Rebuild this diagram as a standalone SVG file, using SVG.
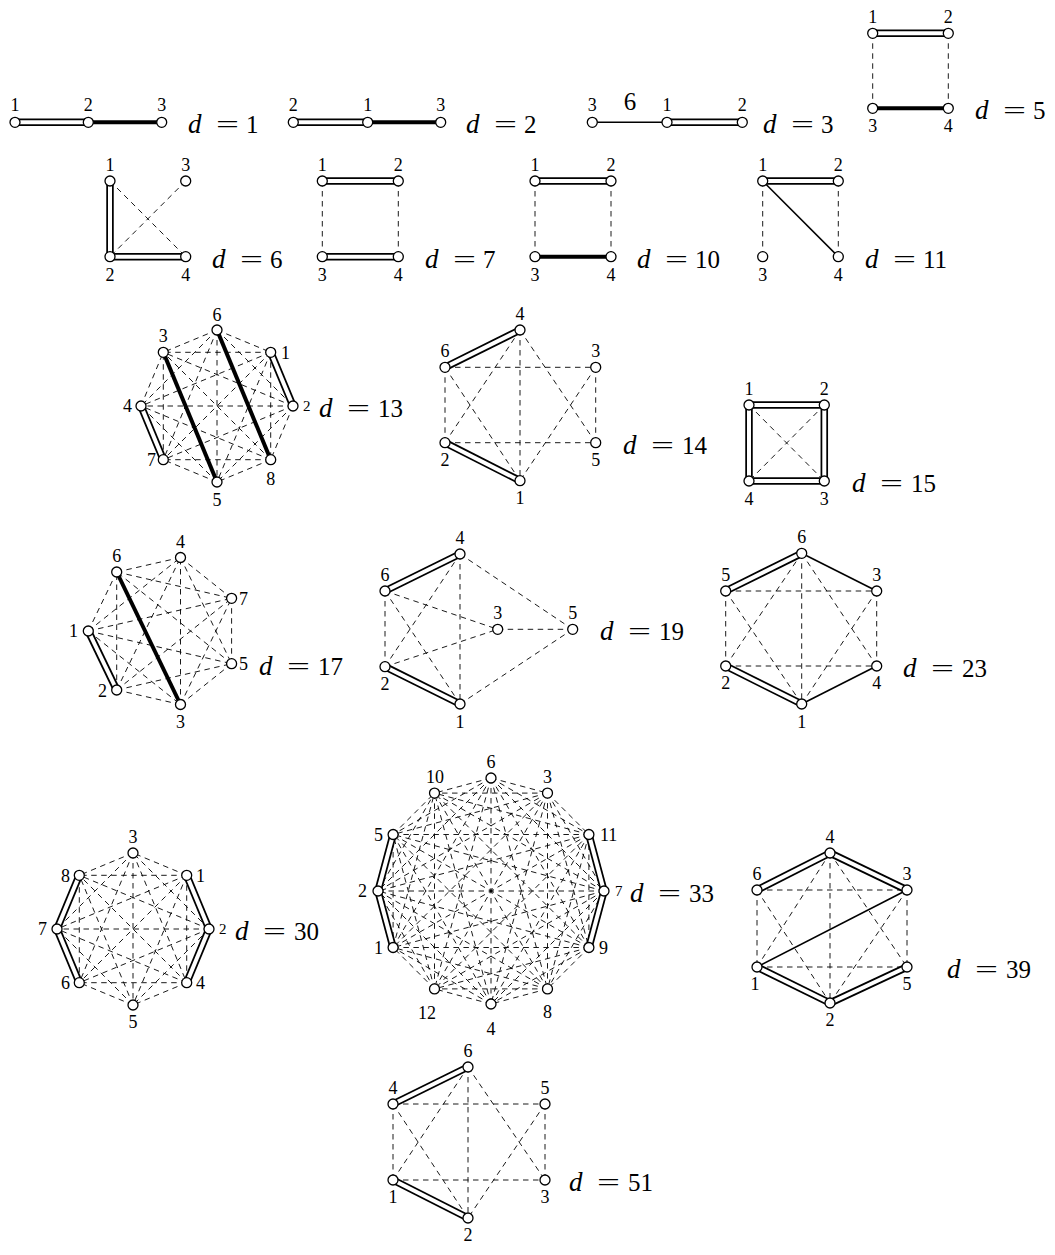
<svg xmlns="http://www.w3.org/2000/svg" width="1055" height="1255" viewBox="0 0 1055 1255">
<style>
.bg{fill:#fff}
.n circle{fill:#fff;stroke:#000;stroke-width:1.3}
text{font-family:"Liberation Serif","DejaVu Serif",serif;fill:#000}
.lb{font-size:18px;text-anchor:middle}
.ls{font-size:18px;text-anchor:start}
.le{font-size:18px;text-anchor:end}
.sm{font-size:15px}
.dl{font-size:25px}
.dv{font-size:27px}
.dash line{stroke:#000;stroke-width:0.9;stroke-dasharray:5.5 4.5;fill:none}
.sol line{stroke:#000;stroke-width:1.6}
.bold line{stroke:#000;stroke-width:4}
.dbo line{stroke:#000;stroke-width:7.5}
.dbi line{stroke:#fff;stroke-width:4}
</style>
<rect class="bg" x="0" y="0" width="1055" height="1255"/>
<g id="connectors">
<g class="dash">
<line x1="872.7" y1="33.3" x2="872.7" y2="108.3"/><line x1="948.3" y1="33.3" x2="948.3" y2="108.3"/>
<line x1="110" y1="181" x2="185.7" y2="256.7"/><line x1="185.7" y1="181" x2="110" y2="256.7"/>
<line x1="322.3" y1="181" x2="322.3" y2="256.7"/><line x1="398.3" y1="181" x2="398.3" y2="256.7"/>
<line x1="535" y1="181" x2="535" y2="256.7"/><line x1="611" y1="181" x2="611" y2="256.7"/>
<line x1="762.7" y1="181" x2="762.7" y2="256.7"/><line x1="838.3" y1="181" x2="838.3" y2="256.7"/>
<line x1="217" y1="330" x2="270.7" y2="352.3"/><line x1="217" y1="330" x2="293" y2="406"/><line x1="217" y1="330" x2="217" y2="482"/><line x1="217" y1="330" x2="163.3" y2="459.7"/><line x1="217" y1="330" x2="141" y2="406"/><line x1="217" y1="330" x2="163.3" y2="352.3"/>
<line x1="270.7" y1="352.3" x2="270.7" y2="459.7"/><line x1="270.7" y1="352.3" x2="217" y2="482"/><line x1="270.7" y1="352.3" x2="163.3" y2="459.7"/><line x1="270.7" y1="352.3" x2="141" y2="406"/><line x1="270.7" y1="352.3" x2="163.3" y2="352.3"/>
<line x1="293" y1="406" x2="270.7" y2="459.7"/><line x1="293" y1="406" x2="217" y2="482"/><line x1="293" y1="406" x2="163.3" y2="459.7"/><line x1="293" y1="406" x2="141" y2="406"/><line x1="293" y1="406" x2="163.3" y2="352.3"/>
<line x1="270.7" y1="459.7" x2="217" y2="482"/><line x1="270.7" y1="459.7" x2="163.3" y2="459.7"/><line x1="270.7" y1="459.7" x2="141" y2="406"/><line x1="270.7" y1="459.7" x2="163.3" y2="352.3"/>
<line x1="217" y1="482" x2="163.3" y2="459.7"/><line x1="217" y1="482" x2="141" y2="406"/>
<line x1="163.3" y1="459.7" x2="163.3" y2="352.3"/><line x1="141" y1="406" x2="163.3" y2="352.3"/>
<line x1="445" y1="367.3" x2="595.7" y2="367.3"/><line x1="445" y1="367.3" x2="445" y2="442.7"/><line x1="445" y1="367.3" x2="520" y2="480.7"/><line x1="520" y1="330" x2="445" y2="442.7"/><line x1="520" y1="330" x2="520" y2="480.7"/><line x1="520" y1="330" x2="595.7" y2="442.7"/><line x1="595.7" y1="367.3" x2="520" y2="480.7"/><line x1="595.7" y1="367.3" x2="595.7" y2="442.7"/><line x1="445" y1="442.7" x2="595.7" y2="442.7"/>
<line x1="749" y1="405" x2="824.3" y2="481"/><line x1="824.3" y1="405" x2="749" y2="481"/>
<line x1="88.3" y1="631" x2="180.5" y2="704.5"/><line x1="88.3" y1="631" x2="180.5" y2="557.5"/><line x1="88.3" y1="631" x2="231.6" y2="663.7"/><line x1="88.3" y1="631" x2="116.7" y2="572"/><line x1="88.3" y1="631" x2="231.6" y2="598.3"/>
<line x1="116.7" y1="690" x2="180.5" y2="704.5"/><line x1="116.7" y1="690" x2="180.5" y2="557.5"/><line x1="116.7" y1="690" x2="231.6" y2="663.7"/><line x1="116.7" y1="690" x2="116.7" y2="572"/><line x1="116.7" y1="690" x2="231.6" y2="598.3"/>
<line x1="180.5" y1="704.5" x2="180.5" y2="557.5"/><line x1="180.5" y1="704.5" x2="231.6" y2="663.7"/><line x1="180.5" y1="704.5" x2="231.6" y2="598.3"/>
<line x1="180.5" y1="557.5" x2="231.6" y2="663.7"/><line x1="180.5" y1="557.5" x2="116.7" y2="572"/><line x1="180.5" y1="557.5" x2="231.6" y2="598.3"/>
<line x1="231.6" y1="663.7" x2="116.7" y2="572"/><line x1="231.6" y1="663.7" x2="231.6" y2="598.3"/><line x1="116.7" y1="572" x2="231.6" y2="598.3"/>
<line x1="460" y1="554" x2="572.7" y2="629.3"/><line x1="460" y1="554" x2="460" y2="704"/><line x1="460" y1="554" x2="385" y2="666.7"/><line x1="385" y1="591" x2="385" y2="666.7"/><line x1="385" y1="591" x2="497.7" y2="629.3"/><line x1="385" y1="591" x2="460" y2="704"/><line x1="385" y1="666.7" x2="497.7" y2="629.3"/><line x1="497.7" y1="629.3" x2="572.7" y2="629.3"/><line x1="460" y1="704" x2="572.7" y2="629.3"/>
<line x1="725.7" y1="591" x2="876.7" y2="591"/><line x1="725.7" y1="591" x2="725.7" y2="666"/><line x1="725.7" y1="591" x2="801.7" y2="704"/><line x1="801.7" y1="553.3" x2="725.7" y2="666"/><line x1="801.7" y1="553.3" x2="801.7" y2="704"/><line x1="801.7" y1="553.3" x2="876.7" y2="666"/><line x1="876.7" y1="591" x2="801.7" y2="704"/><line x1="876.7" y1="591" x2="876.7" y2="666"/><line x1="725.7" y1="666" x2="876.7" y2="666"/>
<line x1="186.7" y1="875.3" x2="133" y2="853"/><line x1="186.7" y1="875.3" x2="186.7" y2="982.7"/><line x1="186.7" y1="875.3" x2="133" y2="1005"/><line x1="186.7" y1="875.3" x2="79.3" y2="982.7"/><line x1="186.7" y1="875.3" x2="57" y2="929"/><line x1="186.7" y1="875.3" x2="79.3" y2="875.3"/>
<line x1="209" y1="929" x2="133" y2="853"/><line x1="209" y1="929" x2="133" y2="1005"/><line x1="209" y1="929" x2="79.3" y2="982.7"/><line x1="209" y1="929" x2="57" y2="929"/><line x1="209" y1="929" x2="79.3" y2="875.3"/>
<line x1="133" y1="853" x2="186.7" y2="982.7"/><line x1="133" y1="853" x2="133" y2="1005"/><line x1="133" y1="853" x2="79.3" y2="982.7"/><line x1="133" y1="853" x2="57" y2="929"/><line x1="133" y1="853" x2="79.3" y2="875.3"/>
<line x1="186.7" y1="982.7" x2="133" y2="1005"/><line x1="186.7" y1="982.7" x2="79.3" y2="982.7"/><line x1="186.7" y1="982.7" x2="57" y2="929"/><line x1="186.7" y1="982.7" x2="79.3" y2="875.3"/>
<line x1="133" y1="1005" x2="79.3" y2="982.7"/><line x1="133" y1="1005" x2="57" y2="929"/><line x1="133" y1="1005" x2="79.3" y2="875.3"/><line x1="79.3" y1="982.7" x2="79.3" y2="875.3"/>
<line x1="491" y1="778" x2="547.5" y2="793.1"/><line x1="491" y1="778" x2="588.9" y2="834.5"/><line x1="491" y1="778" x2="604" y2="891"/><line x1="491" y1="778" x2="588.9" y2="947.5"/><line x1="491" y1="778" x2="547.5" y2="988.9"/><line x1="491" y1="778" x2="491" y2="1004"/><line x1="491" y1="778" x2="434.5" y2="988.9"/><line x1="491" y1="778" x2="393.1" y2="947.5"/><line x1="491" y1="778" x2="378" y2="891"/><line x1="491" y1="778" x2="393.1" y2="834.5"/><line x1="491" y1="778" x2="434.5" y2="793.1"/>
<line x1="547.5" y1="793.1" x2="588.9" y2="834.5"/><line x1="547.5" y1="793.1" x2="604" y2="891"/><line x1="547.5" y1="793.1" x2="588.9" y2="947.5"/><line x1="547.5" y1="793.1" x2="547.5" y2="988.9"/><line x1="547.5" y1="793.1" x2="491" y2="1004"/><line x1="547.5" y1="793.1" x2="434.5" y2="988.9"/><line x1="547.5" y1="793.1" x2="393.1" y2="947.5"/><line x1="547.5" y1="793.1" x2="378" y2="891"/><line x1="547.5" y1="793.1" x2="393.1" y2="834.5"/><line x1="547.5" y1="793.1" x2="434.5" y2="793.1"/>
<line x1="588.9" y1="834.5" x2="588.9" y2="947.5"/><line x1="588.9" y1="834.5" x2="547.5" y2="988.9"/><line x1="588.9" y1="834.5" x2="491" y2="1004"/><line x1="588.9" y1="834.5" x2="434.5" y2="988.9"/><line x1="588.9" y1="834.5" x2="393.1" y2="947.5"/><line x1="588.9" y1="834.5" x2="378" y2="891"/><line x1="588.9" y1="834.5" x2="393.1" y2="834.5"/><line x1="588.9" y1="834.5" x2="434.5" y2="793.1"/>
<line x1="604" y1="891" x2="547.5" y2="988.9"/><line x1="604" y1="891" x2="491" y2="1004"/><line x1="604" y1="891" x2="434.5" y2="988.9"/><line x1="604" y1="891" x2="393.1" y2="947.5"/><line x1="604" y1="891" x2="378" y2="891"/><line x1="604" y1="891" x2="393.1" y2="834.5"/><line x1="604" y1="891" x2="434.5" y2="793.1"/>
<line x1="588.9" y1="947.5" x2="547.5" y2="988.9"/><line x1="588.9" y1="947.5" x2="491" y2="1004"/><line x1="588.9" y1="947.5" x2="434.5" y2="988.9"/><line x1="588.9" y1="947.5" x2="393.1" y2="947.5"/><line x1="588.9" y1="947.5" x2="378" y2="891"/><line x1="588.9" y1="947.5" x2="393.1" y2="834.5"/><line x1="588.9" y1="947.5" x2="434.5" y2="793.1"/>
<line x1="547.5" y1="988.9" x2="491" y2="1004"/><line x1="547.5" y1="988.9" x2="434.5" y2="988.9"/><line x1="547.5" y1="988.9" x2="393.1" y2="947.5"/><line x1="547.5" y1="988.9" x2="378" y2="891"/><line x1="547.5" y1="988.9" x2="393.1" y2="834.5"/><line x1="547.5" y1="988.9" x2="434.5" y2="793.1"/>
<line x1="491" y1="1004" x2="434.5" y2="988.9"/><line x1="491" y1="1004" x2="393.1" y2="947.5"/><line x1="491" y1="1004" x2="378" y2="891"/><line x1="491" y1="1004" x2="393.1" y2="834.5"/><line x1="491" y1="1004" x2="434.5" y2="793.1"/>
<line x1="434.5" y1="988.9" x2="393.1" y2="947.5"/><line x1="434.5" y1="988.9" x2="378" y2="891"/><line x1="434.5" y1="988.9" x2="393.1" y2="834.5"/><line x1="434.5" y1="988.9" x2="434.5" y2="793.1"/>
<line x1="393.1" y1="947.5" x2="393.1" y2="834.5"/><line x1="393.1" y1="947.5" x2="434.5" y2="793.1"/><line x1="378" y1="891" x2="434.5" y2="793.1"/><line x1="393.1" y1="834.5" x2="434.5" y2="793.1"/>
<line x1="757" y1="890" x2="907" y2="890"/><line x1="757" y1="890" x2="757" y2="967"/><line x1="757" y1="890" x2="830" y2="1003"/><line x1="830" y1="853" x2="757" y2="967"/><line x1="830" y1="853" x2="830" y2="1003"/><line x1="830" y1="853" x2="907" y2="967"/><line x1="907" y1="890" x2="830" y2="1003"/><line x1="907" y1="890" x2="907" y2="967"/><line x1="757" y1="967" x2="907" y2="967"/>
<line x1="393" y1="1104" x2="545" y2="1104"/><line x1="393" y1="1180" x2="545" y2="1180"/><line x1="393" y1="1104" x2="393" y2="1180"/><line x1="545" y1="1104" x2="545" y2="1180"/><line x1="468" y1="1067" x2="468" y2="1218"/><line x1="468" y1="1067" x2="393" y2="1180"/><line x1="393" y1="1104" x2="468" y2="1218"/><line x1="468" y1="1067" x2="545" y2="1180"/><line x1="545" y1="1104" x2="468" y2="1218"/>
</g>
<g class="sol">
<line x1="592.3" y1="122.3" x2="667" y2="122.3"/>
<line x1="762.7" y1="181" x2="838.3" y2="256.7"/>
<line x1="801.7" y1="553.3" x2="876.7" y2="591"/><line x1="801.7" y1="704" x2="876.7" y2="666"/>
<line x1="757" y1="967" x2="907" y2="890"/>
</g>
<g class="bold">
<line x1="88.3" y1="122.3" x2="161.7" y2="122.3"/>
<line x1="367.7" y1="122.3" x2="440.7" y2="122.3"/>
<line x1="872.7" y1="108.3" x2="948.3" y2="108.3"/>
<line x1="535" y1="256.7" x2="611" y2="256.7"/>
<line x1="163.3" y1="352.3" x2="217" y2="482"/><line x1="217" y1="330" x2="270.7" y2="459.7"/>
<line x1="116.7" y1="572" x2="180.5" y2="704.5"/>
</g>
<g class="dbo">
<line x1="15" y1="122.3" x2="88.3" y2="122.3"/>
<line x1="293.3" y1="122.3" x2="367.7" y2="122.3"/>
<line x1="667" y1="122.3" x2="742.3" y2="122.3"/>
<line x1="872.7" y1="33.3" x2="948.3" y2="33.3"/>
<line x1="110" y1="181" x2="110" y2="256.7"/><line x1="110" y1="256.7" x2="185.7" y2="256.7"/>
<line x1="322.3" y1="181" x2="398.3" y2="181"/><line x1="322.3" y1="256.7" x2="398.3" y2="256.7"/>
<line x1="535" y1="181" x2="611" y2="181"/>
<line x1="762.7" y1="181" x2="838.3" y2="181"/>
<line x1="270.7" y1="352.3" x2="293" y2="406"/><line x1="141" y1="406" x2="163.3" y2="459.7"/>
<line x1="445" y1="367.3" x2="520" y2="330"/><line x1="445" y1="442.7" x2="520" y2="480.7"/>
<line x1="749" y1="405" x2="824.3" y2="405"/><line x1="824.3" y1="405" x2="824.3" y2="481"/><line x1="824.3" y1="481" x2="749" y2="481"/><line x1="749" y1="481" x2="749" y2="405"/>
<line x1="88.3" y1="631" x2="116.7" y2="690"/>
<line x1="385" y1="591" x2="460" y2="554"/><line x1="385" y1="666.7" x2="460" y2="704"/>
<line x1="725.7" y1="591" x2="801.7" y2="553.3"/><line x1="725.7" y1="666" x2="801.7" y2="704"/>
<line x1="79.3" y1="875.3" x2="57" y2="929"/><line x1="57" y1="929" x2="79.3" y2="982.7"/><line x1="186.7" y1="875.3" x2="209" y2="929"/><line x1="209" y1="929" x2="186.7" y2="982.7"/>
<line x1="393.1" y1="834.5" x2="378" y2="891"/><line x1="378" y1="891" x2="393.1" y2="947.5"/><line x1="588.9" y1="834.5" x2="604" y2="891"/><line x1="604" y1="891" x2="588.9" y2="947.5"/>
<line x1="757" y1="890" x2="830" y2="853"/><line x1="830" y1="853" x2="907" y2="890"/><line x1="757" y1="967" x2="830" y2="1003"/><line x1="830" y1="1003" x2="907" y2="967"/>
<line x1="393" y1="1104" x2="468" y2="1067"/><line x1="393" y1="1180" x2="468" y2="1218"/>
</g>
<g class="dbi">
<line x1="15" y1="122.3" x2="88.3" y2="122.3"/>
<line x1="293.3" y1="122.3" x2="367.7" y2="122.3"/>
<line x1="667" y1="122.3" x2="742.3" y2="122.3"/>
<line x1="872.7" y1="33.3" x2="948.3" y2="33.3"/>
<line x1="110" y1="181" x2="110" y2="256.7"/><line x1="110" y1="256.7" x2="185.7" y2="256.7"/>
<line x1="322.3" y1="181" x2="398.3" y2="181"/><line x1="322.3" y1="256.7" x2="398.3" y2="256.7"/>
<line x1="535" y1="181" x2="611" y2="181"/>
<line x1="762.7" y1="181" x2="838.3" y2="181"/>
<line x1="270.7" y1="352.3" x2="293" y2="406"/><line x1="141" y1="406" x2="163.3" y2="459.7"/>
<line x1="445" y1="367.3" x2="520" y2="330"/><line x1="445" y1="442.7" x2="520" y2="480.7"/>
<line x1="749" y1="405" x2="824.3" y2="405"/><line x1="824.3" y1="405" x2="824.3" y2="481"/><line x1="824.3" y1="481" x2="749" y2="481"/><line x1="749" y1="481" x2="749" y2="405"/>
<line x1="88.3" y1="631" x2="116.7" y2="690"/>
<line x1="385" y1="591" x2="460" y2="554"/><line x1="385" y1="666.7" x2="460" y2="704"/>
<line x1="725.7" y1="591" x2="801.7" y2="553.3"/><line x1="725.7" y1="666" x2="801.7" y2="704"/>
<line x1="79.3" y1="875.3" x2="57" y2="929"/><line x1="57" y1="929" x2="79.3" y2="982.7"/><line x1="186.7" y1="875.3" x2="209" y2="929"/><line x1="209" y1="929" x2="186.7" y2="982.7"/>
<line x1="393.1" y1="834.5" x2="378" y2="891"/><line x1="378" y1="891" x2="393.1" y2="947.5"/><line x1="588.9" y1="834.5" x2="604" y2="891"/><line x1="604" y1="891" x2="588.9" y2="947.5"/>
<line x1="757" y1="890" x2="830" y2="853"/><line x1="830" y1="853" x2="907" y2="890"/><line x1="757" y1="967" x2="830" y2="1003"/><line x1="830" y1="1003" x2="907" y2="967"/>
<line x1="393" y1="1104" x2="468" y2="1067"/><line x1="393" y1="1180" x2="468" y2="1218"/>
</g>
</g>
<g id="nodes">
<g id="d1-n1" class="n"><circle cx="15" cy="122.3" r="5"/><text class="lb" x="15" y="111">1</text></g>
<g id="d1-n2" class="n"><circle cx="88.3" cy="122.3" r="5"/><text class="lb" x="88.3" y="111">2</text></g>
<g id="d1-n3" class="n"><circle cx="161.7" cy="122.3" r="5"/><text class="lb" x="161.7" y="111">3</text></g>
<g id="d2-n2" class="n"><circle cx="293.3" cy="122.3" r="5"/><text class="lb" x="293.3" y="111">2</text></g>
<g id="d2-n1" class="n"><circle cx="367.7" cy="122.3" r="5"/><text class="lb" x="367.7" y="111">1</text></g>
<g id="d2-n3" class="n"><circle cx="440.7" cy="122.3" r="5"/><text class="lb" x="440.7" y="111">3</text></g>
<g id="d3-n3" class="n"><circle cx="592.3" cy="122.3" r="5"/><text class="lb" x="592.3" y="111">3</text></g>
<g id="d3-n1" class="n"><circle cx="667" cy="122.3" r="5"/><text class="lb" x="667" y="111">1</text></g>
<g id="d3-n2" class="n"><circle cx="742.3" cy="122.3" r="5"/><text class="lb" x="742.3" y="111">2</text></g>
<g id="d5-n1" class="n"><circle cx="872.7" cy="33.3" r="5"/><text class="lb" x="872.7" y="23">1</text></g>
<g id="d5-n2" class="n"><circle cx="948.3" cy="33.3" r="5"/><text class="lb" x="948.3" y="23">2</text></g>
<g id="d5-n3" class="n"><circle cx="872.7" cy="108.3" r="5"/><text class="lb" x="872.7" y="132">3</text></g>
<g id="d5-n4" class="n"><circle cx="948.3" cy="108.3" r="5"/><text class="lb" x="948.3" y="132">4</text></g>
<g id="d6-n1" class="n"><circle cx="110" cy="181" r="5"/><text class="lb" x="110" y="171">1</text></g>
<g id="d6-n3" class="n"><circle cx="185.7" cy="181" r="5"/><text class="lb" x="185.7" y="171">3</text></g>
<g id="d6-n2" class="n"><circle cx="110" cy="256.7" r="5"/><text class="lb" x="110" y="281">2</text></g>
<g id="d6-n4" class="n"><circle cx="185.7" cy="256.7" r="5"/><text class="lb" x="185.7" y="281">4</text></g>
<g id="d7-n1" class="n"><circle cx="322.3" cy="181" r="5"/><text class="lb" x="322.3" y="171">1</text></g>
<g id="d7-n2" class="n"><circle cx="398.3" cy="181" r="5"/><text class="lb" x="398.3" y="171">2</text></g>
<g id="d7-n3" class="n"><circle cx="322.3" cy="256.7" r="5"/><text class="lb" x="322.3" y="281">3</text></g>
<g id="d7-n4" class="n"><circle cx="398.3" cy="256.7" r="5"/><text class="lb" x="398.3" y="281">4</text></g>
<g id="d10-n1" class="n"><circle cx="535" cy="181" r="5"/><text class="lb" x="535" y="171">1</text></g>
<g id="d10-n2" class="n"><circle cx="611" cy="181" r="5"/><text class="lb" x="611" y="171">2</text></g>
<g id="d10-n3" class="n"><circle cx="535" cy="256.7" r="5"/><text class="lb" x="535" y="281">3</text></g>
<g id="d10-n4" class="n"><circle cx="611" cy="256.7" r="5"/><text class="lb" x="611" y="281">4</text></g>
<g id="d11-n1" class="n"><circle cx="762.7" cy="181" r="5"/><text class="lb" x="762.7" y="171">1</text></g>
<g id="d11-n2" class="n"><circle cx="838.3" cy="181" r="5"/><text class="lb" x="838.3" y="171">2</text></g>
<g id="d11-n3" class="n"><circle cx="762.7" cy="256.7" r="5"/><text class="lb" x="762.7" y="281">3</text></g>
<g id="d11-n4" class="n"><circle cx="838.3" cy="256.7" r="5"/><text class="lb" x="838.3" y="281">4</text></g>
<g id="d13-n6" class="n"><circle cx="217" cy="330" r="5"/><text class="lb" x="217" y="321">6</text></g>
<g id="d13-n1" class="n"><circle cx="270.7" cy="352.3" r="5"/><text class="ls" x="281" y="359">1</text></g>
<g id="d13-n2" class="n"><circle cx="293" cy="406" r="5"/><text class="ls sm" x="303" y="411">2</text></g>
<g id="d13-n8" class="n"><circle cx="270.7" cy="459.7" r="5"/><text class="lb" x="270.7" y="485">8</text></g>
<g id="d13-n5" class="n"><circle cx="217" cy="482" r="5"/><text class="lb" x="217" y="506">5</text></g>
<g id="d13-n7" class="n"><circle cx="163.3" cy="459.7" r="5"/><text class="le" x="156" y="466">7</text></g>
<g id="d13-n4" class="n"><circle cx="141" cy="406" r="5"/><text class="le" x="132" y="412">4</text></g>
<g id="d13-n3" class="n"><circle cx="163.3" cy="352.3" r="5"/><text class="lb" x="163.3" y="342">3</text></g>
<g id="d14-n4" class="n"><circle cx="520" cy="330" r="5"/><text class="lb" x="520" y="320">4</text></g>
<g id="d14-n6" class="n"><circle cx="445" cy="367.3" r="5"/><text class="lb" x="445" y="357">6</text></g>
<g id="d14-n3" class="n"><circle cx="595.7" cy="367.3" r="5"/><text class="lb" x="595.7" y="357">3</text></g>
<g id="d14-n2" class="n"><circle cx="445" cy="442.7" r="5"/><text class="lb" x="445" y="466">2</text></g>
<g id="d14-n5" class="n"><circle cx="595.7" cy="442.7" r="5"/><text class="lb" x="595.7" y="466">5</text></g>
<g id="d14-n1" class="n"><circle cx="520" cy="480.7" r="5"/><text class="lb" x="520" y="504">1</text></g>
<g id="d15-n1" class="n"><circle cx="749" cy="405" r="5"/><text class="lb" x="749" y="395">1</text></g>
<g id="d15-n2" class="n"><circle cx="824.3" cy="405" r="5"/><text class="lb" x="824.3" y="395">2</text></g>
<g id="d15-n4" class="n"><circle cx="749" cy="481" r="5"/><text class="lb" x="749" y="505">4</text></g>
<g id="d15-n3" class="n"><circle cx="824.3" cy="481" r="5"/><text class="lb" x="824.3" y="505">3</text></g>
<g id="d17-n1" class="n"><circle cx="88.3" cy="631" r="5"/><text class="le" x="78" y="637">1</text></g>
<g id="d17-n6" class="n"><circle cx="116.7" cy="572" r="5"/><text class="lb" x="116.7" y="562">6</text></g>
<g id="d17-n4" class="n"><circle cx="180.5" cy="557.5" r="5"/><text class="lb" x="180.5" y="548">4</text></g>
<g id="d17-n7" class="n"><circle cx="231.6" cy="598.3" r="5"/><text class="ls" x="239" y="605">7</text></g>
<g id="d17-n5" class="n"><circle cx="231.6" cy="663.7" r="5"/><text class="ls" x="239" y="670">5</text></g>
<g id="d17-n3" class="n"><circle cx="180.5" cy="704.5" r="5"/><text class="lb" x="180.5" y="728">3</text></g>
<g id="d17-n2" class="n"><circle cx="116.7" cy="690" r="5"/><text class="le" x="107" y="697">2</text></g>
<g id="d19-n4" class="n"><circle cx="460" cy="554" r="5"/><text class="lb" x="460" y="544">4</text></g>
<g id="d19-n6" class="n"><circle cx="385" cy="591" r="5"/><text class="lb" x="385" y="581">6</text></g>
<g id="d19-n3" class="n"><circle cx="497.7" cy="629.3" r="5"/><text class="lb" x="497.7" y="619">3</text></g>
<g id="d19-n5" class="n"><circle cx="572.7" cy="629.3" r="5"/><text class="lb" x="572.7" y="619">5</text></g>
<g id="d19-n2" class="n"><circle cx="385" cy="666.7" r="5"/><text class="lb" x="385" y="690">2</text></g>
<g id="d19-n1" class="n"><circle cx="460" cy="704" r="5"/><text class="lb" x="460" y="728">1</text></g>
<g id="d23-n6" class="n"><circle cx="801.7" cy="553.3" r="5"/><text class="lb" x="801.7" y="543">6</text></g>
<g id="d23-n5" class="n"><circle cx="725.7" cy="591" r="5"/><text class="lb" x="725.7" y="581">5</text></g>
<g id="d23-n3" class="n"><circle cx="876.7" cy="591" r="5"/><text class="lb" x="876.7" y="581">3</text></g>
<g id="d23-n2" class="n"><circle cx="725.7" cy="666" r="5"/><text class="lb" x="725.7" y="689">2</text></g>
<g id="d23-n4" class="n"><circle cx="876.7" cy="666" r="5"/><text class="lb" x="876.7" y="689">4</text></g>
<g id="d23-n1" class="n"><circle cx="801.7" cy="704" r="5"/><text class="lb" x="801.7" y="728">1</text></g>
<g id="d30-n3" class="n"><circle cx="133" cy="853" r="5"/><text class="lb" x="133" y="843">3</text></g>
<g id="d30-n1" class="n"><circle cx="186.7" cy="875.3" r="5"/><text class="ls" x="196" y="882">1</text></g>
<g id="d30-n2" class="n"><circle cx="209" cy="929" r="5"/><text class="ls sm" x="219" y="934">2</text></g>
<g id="d30-n4" class="n"><circle cx="186.7" cy="982.7" r="5"/><text class="ls" x="196" y="989">4</text></g>
<g id="d30-n5" class="n"><circle cx="133" cy="1005" r="5"/><text class="lb" x="133" y="1028">5</text></g>
<g id="d30-n6" class="n"><circle cx="79.3" cy="982.7" r="5"/><text class="le" x="70" y="989">6</text></g>
<g id="d30-n7" class="n"><circle cx="57" cy="929" r="5"/><text class="le" x="47" y="935">7</text></g>
<g id="d30-n8" class="n"><circle cx="79.3" cy="875.3" r="5"/><text class="le" x="70" y="882">8</text></g>
<g id="d33-n6" class="n"><circle cx="491" cy="778" r="5"/><text class="lb" x="491" y="768">6</text></g>
<g id="d33-n3" class="n"><circle cx="547.5" cy="793.1" r="5"/><text class="lb" x="547.5" y="783">3</text></g>
<g id="d33-n11" class="n"><circle cx="588.9" cy="834.5" r="5"/><text class="ls" x="600" y="841">11</text></g>
<g id="d33-n7" class="n"><circle cx="604" cy="891" r="5"/><text class="ls sm" x="615" y="896">7</text></g>
<g id="d33-n9" class="n"><circle cx="588.9" cy="947.5" r="5"/><text class="ls" x="599" y="954">9</text></g>
<g id="d33-n8" class="n"><circle cx="547.5" cy="988.9" r="5"/><text class="lb" x="547.5" y="1018">8</text></g>
<g id="d33-n4" class="n"><circle cx="491" cy="1004" r="5"/><text class="lb" x="491" y="1035">4</text></g>
<g id="d33-n12" class="n"><circle cx="434.5" cy="988.9" r="5"/><text class="lb" x="427" y="1019">12</text></g>
<g id="d33-n1" class="n"><circle cx="393.1" cy="947.5" r="5"/><text class="le" x="383" y="954">1</text></g>
<g id="d33-n2" class="n"><circle cx="378" cy="891" r="5"/><text class="le" x="367" y="897">2</text></g>
<g id="d33-n5" class="n"><circle cx="393.1" cy="834.5" r="5"/><text class="le" x="383" y="841">5</text></g>
<g id="d33-n10" class="n"><circle cx="434.5" cy="793.1" r="5"/><text class="lb" x="435" y="783">10</text></g>
<g id="d39-n4" class="n"><circle cx="830" cy="853" r="5"/><text class="lb" x="830" y="843">4</text></g>
<g id="d39-n6" class="n"><circle cx="757" cy="890" r="5"/><text class="lb" x="757" y="880">6</text></g>
<g id="d39-n3" class="n"><circle cx="907" cy="890" r="5"/><text class="lb" x="907" y="880">3</text></g>
<g id="d39-n1" class="n"><circle cx="757" cy="967" r="5"/><text class="lb" x="755" y="990">1</text></g>
<g id="d39-n5" class="n"><circle cx="907" cy="967" r="5"/><text class="lb" x="907" y="990">5</text></g>
<g id="d39-n2" class="n"><circle cx="830" cy="1003" r="5"/><text class="lb" x="830" y="1026">2</text></g>
<g id="d51-n6" class="n"><circle cx="468" cy="1067" r="5"/><text class="lb" x="468" y="1057">6</text></g>
<g id="d51-n4" class="n"><circle cx="393" cy="1104" r="5"/><text class="lb" x="393" y="1094">4</text></g>
<g id="d51-n5" class="n"><circle cx="545" cy="1104" r="5"/><text class="lb" x="545" y="1094">5</text></g>
<g id="d51-n1" class="n"><circle cx="393" cy="1180" r="5"/><text class="lb" x="393" y="1203">1</text></g>
<g id="d51-n3" class="n"><circle cx="545" cy="1180" r="5"/><text class="lb" x="545" y="1203">3</text></g>
<g id="d51-n2" class="n"><circle cx="468" cy="1218" r="5"/><text class="lb" x="468" y="1241">2</text></g>
</g>
<g id="labels">
<text class="dl" x="630" y="110" text-anchor="middle">6</text>
<text class="dl" x="188" y="133"><tspan class="dv" font-style="italic">d</tspan><tspan x="216" textLength="23" lengthAdjust="spacingAndGlyphs">=</tspan><tspan x="246">1</tspan></text>
<text class="dl" x="466" y="133"><tspan class="dv" font-style="italic">d</tspan><tspan x="494" textLength="23" lengthAdjust="spacingAndGlyphs">=</tspan><tspan x="524">2</tspan></text>
<text class="dl" x="763" y="133"><tspan class="dv" font-style="italic">d</tspan><tspan x="791" textLength="23" lengthAdjust="spacingAndGlyphs">=</tspan><tspan x="821">3</tspan></text>
<text class="dl" x="975" y="119"><tspan class="dv" font-style="italic">d</tspan><tspan x="1003" textLength="23" lengthAdjust="spacingAndGlyphs">=</tspan><tspan x="1033">5</tspan></text>
<text class="dl" x="212" y="268"><tspan class="dv" font-style="italic">d</tspan><tspan x="240" textLength="23" lengthAdjust="spacingAndGlyphs">=</tspan><tspan x="270">6</tspan></text>
<text class="dl" x="425" y="268"><tspan class="dv" font-style="italic">d</tspan><tspan x="453" textLength="23" lengthAdjust="spacingAndGlyphs">=</tspan><tspan x="483">7</tspan></text>
<text class="dl" x="637" y="268"><tspan class="dv" font-style="italic">d</tspan><tspan x="665" textLength="23" lengthAdjust="spacingAndGlyphs">=</tspan><tspan x="695">10</tspan></text>
<text class="dl" x="865" y="268"><tspan class="dv" font-style="italic">d</tspan><tspan x="893" textLength="23" lengthAdjust="spacingAndGlyphs">=</tspan><tspan x="923">11</tspan></text>
<text class="dl" x="319" y="417"><tspan class="dv" font-style="italic">d</tspan><tspan x="347" textLength="23" lengthAdjust="spacingAndGlyphs">=</tspan><tspan x="378">13</tspan></text>
<text class="dl" x="623" y="454"><tspan class="dv" font-style="italic">d</tspan><tspan x="651" textLength="23" lengthAdjust="spacingAndGlyphs">=</tspan><tspan x="682">14</tspan></text>
<text class="dl" x="852" y="492"><tspan class="dv" font-style="italic">d</tspan><tspan x="880" textLength="23" lengthAdjust="spacingAndGlyphs">=</tspan><tspan x="911">15</tspan></text>
<text class="dl" x="259" y="675"><tspan class="dv" font-style="italic">d</tspan><tspan x="287" textLength="23" lengthAdjust="spacingAndGlyphs">=</tspan><tspan x="318">17</tspan></text>
<text class="dl" x="600" y="640"><tspan class="dv" font-style="italic">d</tspan><tspan x="628" textLength="23" lengthAdjust="spacingAndGlyphs">=</tspan><tspan x="659">19</tspan></text>
<text class="dl" x="903" y="677"><tspan class="dv" font-style="italic">d</tspan><tspan x="931" textLength="23" lengthAdjust="spacingAndGlyphs">=</tspan><tspan x="962">23</tspan></text>
<text class="dl" x="235" y="940"><tspan class="dv" font-style="italic">d</tspan><tspan x="263" textLength="23" lengthAdjust="spacingAndGlyphs">=</tspan><tspan x="294">30</tspan></text>
<text class="dl" x="630" y="902"><tspan class="dv" font-style="italic">d</tspan><tspan x="658" textLength="23" lengthAdjust="spacingAndGlyphs">=</tspan><tspan x="689">33</tspan></text>
<text class="dl" x="947" y="978"><tspan class="dv" font-style="italic">d</tspan><tspan x="975" textLength="23" lengthAdjust="spacingAndGlyphs">=</tspan><tspan x="1006">39</tspan></text>
<text class="dl" x="569" y="1191"><tspan class="dv" font-style="italic">d</tspan><tspan x="597" textLength="23" lengthAdjust="spacingAndGlyphs">=</tspan><tspan x="628">51</tspan></text>
</g>
</svg>
